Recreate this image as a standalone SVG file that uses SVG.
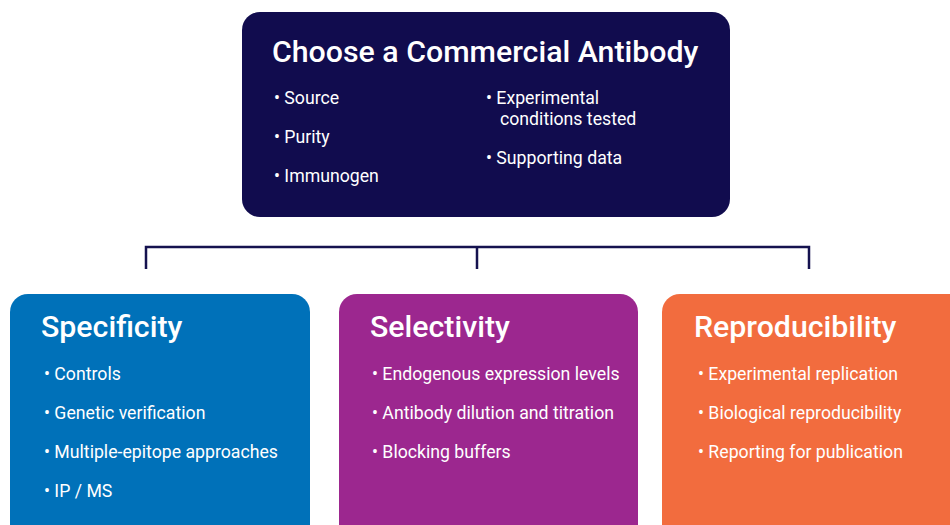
<svg xmlns="http://www.w3.org/2000/svg" width="950" height="525" viewBox="0 0 950 525">
<style>
.t{font-family:Roboto,"Liberation Sans",sans-serif;fill:#fff}
.h1{font-size:30.3px;font-weight:500}
.h2{font-size:30.3px;font-weight:500}
.b{font-size:17.7px}
.c{fill:none;stroke:#15124f;stroke-width:2.5}
</style>
<rect width="950" height="525" fill="#fff"/>
<g id="connectors">
<path class="c" d="M146,269 V247 H809 V269 M477,247 V269"/>
</g>
<g id="top">
<rect x="242" y="12" width="488" height="205" rx="18" fill="#110c4e"/>
<text class="t h1" x="272" y="62">Choose a Commercial Antibody</text>
<text class="t b" x="274" y="104">• Source</text>
<text class="t b" x="274" y="143">• Purity</text>
<text class="t b" x="274" y="182">• Immunogen</text>
<text class="t b" x="486" y="104">• Experimental</text>
<text class="t b" x="500" y="125">conditions tested</text>
<text class="t b" x="486" y="164">• Supporting data</text>
</g>
<g id="specificity">
<rect x="10" y="294" width="300" height="250" rx="18" fill="#0071b9"/>
<text class="t h2" x="41" y="337">Specificity</text>
<text class="t b" x="44" y="380">• Controls</text>
<text class="t b" x="44" y="419">• Genetic verification</text>
<text class="t b" x="44" y="458">• Multiple-epitope approaches</text>
<text class="t b" x="44" y="497">• IP / MS</text>
</g>
<g id="selectivity">
<rect x="339" y="294" width="299" height="250" rx="18" fill="#9c278f"/>
<text class="t h2" x="370" y="337">Selectivity</text>
<text class="t b" x="372" y="380">• Endogenous expression levels</text>
<text class="t b" x="372" y="419">• Antibody dilution and titration</text>
<text class="t b" x="372" y="458">• Blocking buffers</text>
</g>
<g id="reproducibility">
<rect x="662" y="294" width="310" height="250" rx="18" fill="#f26c3e"/>
<text class="t h2" x="694" y="337">Reproducibility</text>
<text class="t b" x="698" y="380">• Experimental replication</text>
<text class="t b" x="698" y="419">• Biological reproducibility</text>
<text class="t b" x="698" y="458">• Reporting for publication</text>
</g>
</svg>
